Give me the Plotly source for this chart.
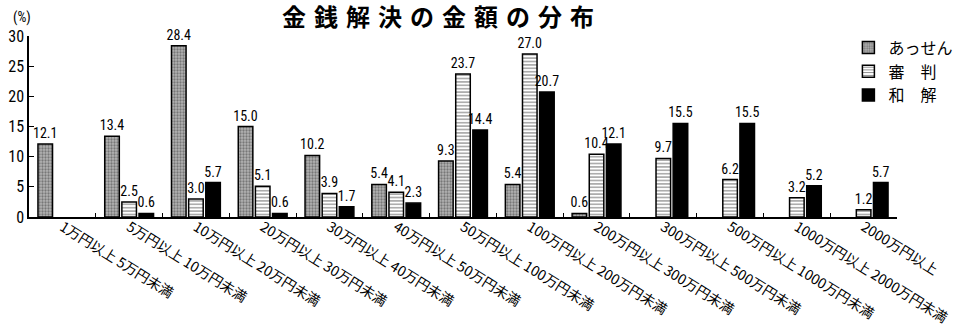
import plotly.graph_objects as go

categories = [
    "1万円以上 5万円未満", "5万円以上 10万円未満", "10万円以上 20万円未満",
    "20万円以上 30万円未満", "30万円以上 40万円未満", "40万円以上 50万円未満",
    "50万円以上 100万円未満", "100万円以上 200万円未満", "200万円以上 300万円未満",
    "300万円以上 500万円未満", "500万円以上 1000万円未満", "1000万円以上 2000万円未満",
    "2000万円以上",
]
assen = [12.1, 13.4, 28.4, 15.0, 10.2, 5.4, 9.3, 5.4, 0.6, 0, 0, 0, 0]
shinpan = [0, 2.5, 3.0, 5.1, 3.9, 4.1, 23.7, 27.0, 10.4, 9.7, 6.2, 3.2, 1.2]
wakai = [0, 0.6, 5.7, 0.6, 1.7, 2.3, 14.4, 20.7, 12.1, 15.5, 15.5, 5.2, 5.7]
series_names = ["あっせん", "審　判", "和　解"]
y_ticks = [0, 5, 10, 15, 20, 25, 30]
title_text = "金銭解決の金額の分布"

NUM_FONT = "Liberation Sans Narrow, Roboto Condensed, DejaVu Sans Condensed, Noto Sans CJK JP, sans-serif"
JP_FONT = "Noto Sans CJK JP, sans-serif"


def labels(vals):
    return [f"{v:.1f}" if v > 0 else "" for v in vals]


def heights(vals):
    return [v if v > 0 else None for v in vals]


fig = go.Figure()
styles = [
    dict(color="#a8a8a8", pattern=dict(shape=".", fgcolor="#3a3a3a", bgcolor="#b4b4b4", size=3, solidity=0.45)),
    dict(color="white", pattern=dict(shape="-", fgcolor="black", bgcolor="white", size=3.4, solidity=0.32)),
    dict(color="black"),
]
for name, vals, st in zip(series_names, [assen, shinpan, wakai], styles):
    fig.add_trace(go.Bar(
        x=categories, y=heights(vals), name=name,
        text=labels(vals), textposition="outside", constraintext="none",
        cliponaxis=False,
        textfont=dict(family=NUM_FONT, size=14, color="black"),
        marker=dict(line=dict(color="black", width=1.5), **st),
    ))

fig.update_layout(
    width=970, height=332,
    margin=dict(l=29, r=47, t=36, b=115),
    paper_bgcolor="white", plot_bgcolor="white",
    barmode="group", bargap=0.23, bargroupgap=0.15,
    title=dict(text="\u2004".join(title_text), x=438 / 970, xanchor="center",
               y=1 - 18 / 332, yanchor="middle", yref="container",
               font=dict(family=JP_FONT, size=24, color="black", weight="bold")),
    showlegend=True,
    legend=dict(x=0.944, y=1.03, xanchor="left", yanchor="top",
                font=dict(family=JP_FONT, size=16, color="black"),
                bgcolor="rgba(0,0,0,0)", tracegroupgap=0, itemwidth=30),
    xaxis=dict(type="category", showline=True, linecolor="black", linewidth=1.5,
               ticks="inside", tickson="boundaries", ticklen=4, tickcolor="black",
               tickangle=32, showgrid=False, automargin=False, ticklabelstandoff=-5,
               tickfont=dict(family=JP_FONT, size=14, color="black")),
    yaxis=dict(range=[0, 30], tickvals=y_ticks, showline=True, linecolor="black", linewidth=1.5,
               ticks="inside", ticklen=5, tickcolor="black", showgrid=False, zeroline=False,
               automargin=False,
               tickfont=dict(family=NUM_FONT, size=16, color="black")),
    annotations=[dict(text="(%)", xref="paper", yref="paper", x=-0.008, y=1.1,
                      xanchor="center", yanchor="middle", showarrow=False,
                      font=dict(family=NUM_FONT, size=14, color="black"))],
)

fig.write_html("out.html")
